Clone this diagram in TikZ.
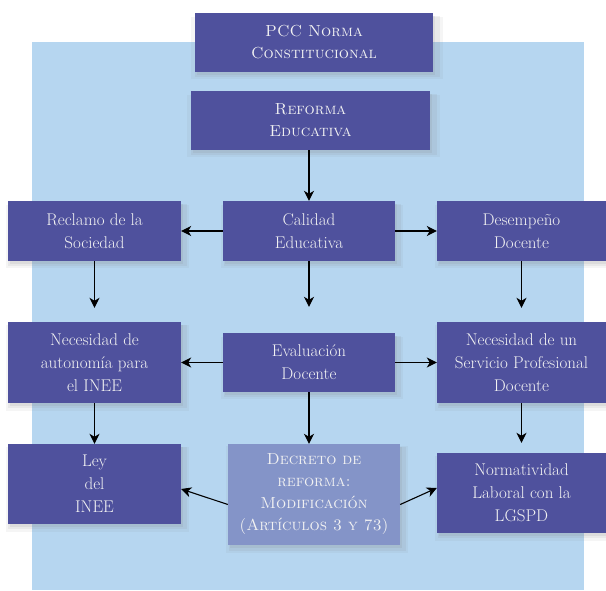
\documentclass[tikz,border=0pt]{standalone}
\usepackage{fontspec}
\usepackage{tikz}
\usetikzlibrary{arrows.meta,positioning,shadows}
\definecolor{boxpurple}{HTML}{4F519D}
\definecolor{decretoblue}{HTML}{8494C8}
\definecolor{bgblue}{HTML}{B6D6F0}

\begin{document}
\begin{tikzpicture}[x=1pt,y=-1pt,
  box/.style={fill=boxpurple,text=white!95!black,align=center,inner sep=0pt,
    font=\fontsize{17}{23}\selectfont,
    drop shadow={opacity=0.08,shadow xshift=3pt,shadow yshift=-5pt,shadow scale=1.06},
    drop shadow={opacity=0.1,shadow xshift=3pt,shadow yshift=-4pt,shadow scale=1.03},
    drop shadow={opacity=0.12,shadow xshift=2pt,shadow yshift=-3pt}},
  capsbox/.style={box,font=\fontsize{16}{22}\selectfont\scshape},
  arr/.style={-{Stealth[length=10pt,width=10pt,inset=3pt]},line width=1.1pt}]
  \useasboundingbox (0,0) rectangle (606,590);
  \fill[bgblue] (32,42) rectangle (584,590);
  % top boxes
  \node[capsbox,minimum width=238pt,minimum height=59pt] (pcc) at (314,42.5) {PCC Norma\\Constitucional};
  \node[capsbox,minimum width=239pt,minimum height=59pt] (reforma) at (310.5,120.5) {Reforma\\Educativa};
  % first row
  \node[box,minimum width=173pt,minimum height=60pt] (reclamo) at (94.5,231) {Reclamo de la\\Sociedad};
  \node[box,minimum width=172pt,minimum height=60pt] (calidad) at (309,231) {Calidad\\Educativa};
  \node[box,minimum width=169pt,minimum height=60pt] (desempeno) at (521.5,231) {Desempeño\\Docente};
  % second row
  \node[box,minimum width=173pt,minimum height=81pt] (autonomia) at (94.5,362.5) {Necesidad de\\autonomía para\\el INEE};
  \node[box,minimum width=172pt,minimum height=59pt] (evaluacion) at (309,362.5) {Evaluación\\Docente};
  \node[box,minimum width=169pt,minimum height=81pt] (servicio) at (521.5,362.5) {Necesidad de un\\Servicio Profesional\\Docente};
  % third row
  \node[box,minimum width=173pt,minimum height=80pt] (ley) at (94.5,484) {Ley\\del\\INEE};
  \node[capsbox,fill=decretoblue,minimum width=172pt,minimum height=101pt] (decreto) at (314,494.5) {Decreto de\\reforma:\\Modificación\\(Artículos 3 y 73)};
  \node[box,minimum width=169pt,minimum height=80pt] (normatividad) at (521.5,493) {Normatividad\\Laboral con la\\LGSPD};
  % connectors
  \draw[arr] (reforma.south -| calidad.north) -- (calidad.north);
  \draw[arr] (calidad.west) -- (reclamo.east);
  \draw[arr] (calidad.east) -- (desempeno.west);
  \draw[arr,shorten >=14pt] (reclamo) -- (autonomia);
  \draw[arr,shorten >=26pt] (calidad) -- (evaluacion);
  \draw[arr,shorten >=14pt] (desempeno) -- (servicio);
  \draw[arr] (evaluacion.west) -- (autonomia.east);
  \draw[arr] (evaluacion.east) -- (servicio.west);
  \draw[arr] (autonomia) -- (ley);
  \draw[arr] (evaluacion.south) -- (evaluacion.south |- decreto.north);
  \draw[arr,shorten >=10pt] (servicio) -- (normatividad);
  \draw[arr] ([yshift=-10pt]decreto.west) -- ([yshift=-5pt]ley.east);
  \draw[arr] ([yshift=-10pt]decreto.east) -- ([yshift=5pt]normatividad.west);
\end{tikzpicture}
\end{document}
